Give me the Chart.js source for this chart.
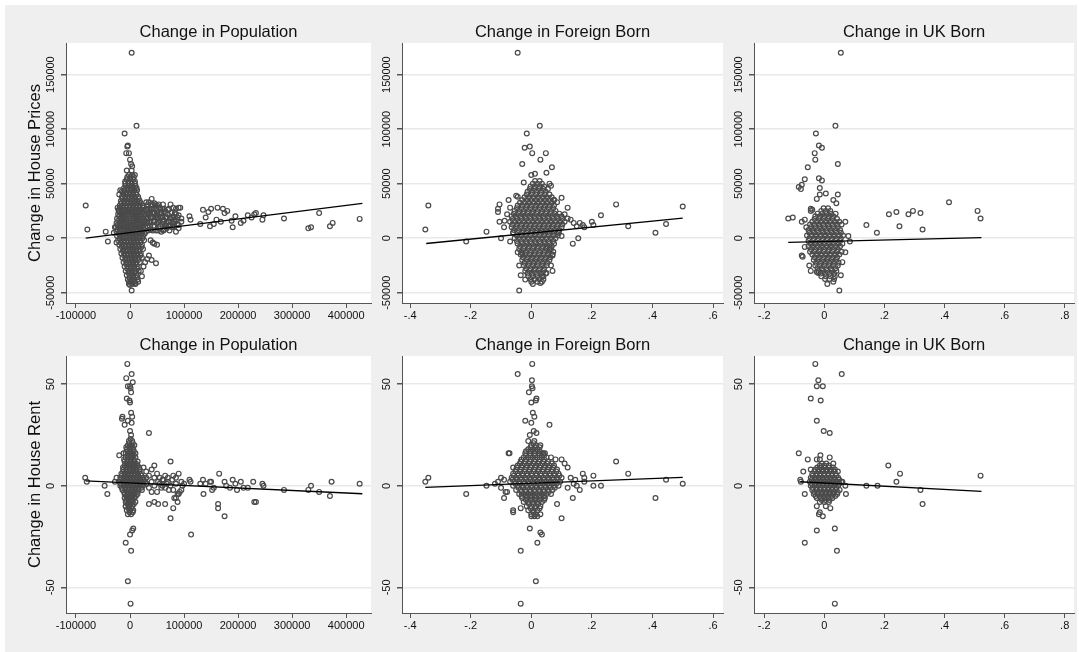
<!DOCTYPE html>
<html>
<head>
<meta charset="utf-8">
<script src="https://cdn.jsdelivr.net/npm/chart.js@4.4.1/dist/chart.umd.min.js"></script>
<style>
  body { margin: 0; background: #fff; }
  #page { position: relative; width: 1079px; height: 652px; overflow: hidden; background: #fff; }
  #bg { position: absolute; left: 5px; top: 5px; width: 1072px; height: 647px; background: #efefef; }
  canvas { position: absolute; }
</style>
</head>
<body>
<div id="page"><div id="bg"></div></div>
<script>
// tick values and labels
const popTicks = [-100000, 0, 100000, 200000, 300000, 400000];
const popTickLabels = ["-100000", "0", "100000", "200000", "300000", "400000"];
const foreignTicks = [-0.4, -0.2, 0, 0.2, 0.4, 0.6];
const foreignTickLabels = ["-.4", "-.2", "0", ".2", ".4", ".6"];
const ukTicks = [-0.2, 0, 0.2, 0.4, 0.6, 0.8];
const ukTickLabels = ["-.2", "0", ".2", ".4", ".6", ".8"];
const priceTicks = [-50000, 0, 50000, 100000, 150000];
const priceTickLabels = ["-50000", "0", "50000", "100000", "150000"];
const rentTicks = [-50, 0, 50];
const rentTickLabels = ["-50", "0", "50"];

// fitted lines (end points)
const fitPopPrice = [[-82000, 0], [430000, 32000]];
const fitForeignPrice = [[-0.347, -4900], [0.5, 18300]];
const fitUkPrice = [[-0.12, -3800], [0.523, 500]];
const fitPopRent = [[-82000, 2.4], [430000, -3.9]];
const fitForeignRent = [[-0.35, -0.8], [0.5, 4.2]];
const fitUkRent = [[-0.08, 2], [0.523, -2.7]];

// dense clusters are written as rows: [y, x1, x2, ...]
// scattered points are written as [x, y]

// change in population vs change in house prices
const popPriceRows = [
  [58000, -2000, 4000], [56000, -5000, 1000, 7000], [54000, -6000, 0, 6000], [52000, -9000, -3000, 3000, 9000],
  [50000, -9000, -3000, 3000, 9000], [48000, -8000, -2000, 4000, 10000], [46000, -11000, -5000, 1000, 7000, 12000],
  [44000, -10000, -4000, 2000, 8000, 13000], [42000, -13000, -7000, -1000, 5000, 11000], [40000, -12000, -6000, 0, 6000, 12000],
  [38000, -15000, -9000, -3000, 3000, 9000, 15000], [36000, -14000, -8000, -2000, 4000, 10000, 16000],
  [34000, -17000, -11000, -5000, 1000, 7000, 13000, 18000], [32000, -16000, -10000, -4000, 2000, 8000, 14000, 20000],
  [30000, -19000, -13000, -7000, -1000, 5000, 11000, 17000, 23000], [28000, -18000, -12000, -6000, 0, 6000, 12000, 18000, 24000],
  [26000, -21000, -15000, -9000, -3000, 3000, 9000, 15000, 21000, 27000], [24000, -19000, -13000, -7000, -1000, 5000, 11000, 17000, 23000],
  [22000, -22000, -16000, -10000, -4000, 2000, 8000, 14000, 20000, 26000], [20000, -20000, -14000, -8000, -2000, 4000, 10000, 16000, 22000, 28000],
  [18000, -24000, -18000, -12000, -6000, 0, 6000, 12000, 18000, 24000, 30000], [16000, -22000, -16000, -10000, -4000, 2000, 8000, 14000, 20000, 26000],
  [14000, -25000, -19000, -13000, -7000, -1000, 5000, 11000, 17000, 23000, 29000], [12000, -23000, -17000, -11000, -5000, 1000, 7000, 13000, 19000, 25000],
  [10000, -26000, -20000, -14000, -8000, -2000, 4000, 10000, 16000, 22000, 28000], [8000, -23000, -17000, -11000, -5000, 1000, 7000, 13000, 19000, 25000],
  [6000, -25000, -19000, -13000, -7000, -1000, 5000, 11000, 17000, 23000, 29000], [4000, -21000, -15000, -9000, -3000, 3000, 9000, 15000, 21000, 27000],
  [2000, -24000, -18000, -12000, -6000, 0, 6000, 12000, 18000, 24000], [0, -19000, -13000, -7000, -1000, 5000, 11000, 17000, 23000],
  [-2000, -22000, -16000, -10000, -4000, 2000, 8000, 14000, 20000, 26000], [-4000, -17000, -11000, -5000, 1000, 7000, 13000, 19000],
  [-6000, -20000, -14000, -8000, -2000, 4000, 10000, 16000, 22000], [-8000, -15000, -9000, -3000, 3000, 9000, 15000, 21000],
  [-10000, -18000, -12000, -6000, 0, 6000, 12000, 18000, 24000], [-12000, -13000, -7000, -1000, 5000, 11000, 17000],
  [-14000, -16000, -10000, -4000, 2000, 8000, 14000, 20000], [-16000, -11000, -5000, 1000, 7000, 13000, 19000],
  [-18000, -14000, -8000, -2000, 4000, 10000, 16000, 22000], [-20000, -9000, -3000, 3000, 9000, 15000],
  [-22000, -12000, -6000, 0, 6000, 12000, 18000], [-24000, -7000, -1000, 5000, 11000],
  [-26000, -10000, -4000, 2000, 8000, 14000], [-28000, -5000, 1000, 7000, 13000],
  [-30000, -8000, -2000, 4000, 10000, 16000], [-32000, -3000, 3000, 9000],
  [-34000, -6000, 0, 6000, 12000], [-36000, -1000, 5000, 11000],
  [-38000, -4000, 2000, 8000, 14000], [-40000, 1000, 7000], [-42000, -2000, 4000, 10000],
  [31000, 33000, 39000, 47000, 53000, 61000], [27000, 33000, 38000, 44000, 49000, 56000, 63000, 72000],
  [23000, 32000, 38000, 43000, 50000, 58000, 66000, 83000], [19000, 33000, 38000, 43000, 49000, 57000, 68000, 78000, 88000],
  [15000, 32000, 38000, 44000, 52000, 61000, 72000, 82000], [11000, 32000, 37000, 46000, 56000, 66000, 82000],
  [7000, 34000, 42000, 52000, 62000]
];
const popPriceOther = [
  [3000,170000],[12000,103000],[-10000,96000],[-5000,84000],[-4000,85000],[-7000,78000],[-2000,78000],[0,72000],[2000,68000],[4000,66000],[3000,62000],[9000,58000],[-6000,62000],
  [-82000,30000],[-79000,8000],[-45000,6000],[-41000,-3000],[-28000,10000],[-30000,5000],[-23000,28000],[-21000,25000],[-25000,-4000],[-20000,40000],[-15000,43000],[-18000,44000],
  [30000,33000],[35000,33000],[40000,36000],[45000,32000],[50000,30000],[55000,28000],[60000,27000],[65000,25000],[70000,26000],[75000,31000],[80000,28000],[85000,27000],[90000,28000],[93000,28000],
  [30000,26000],[35000,24000],[40000,27000],[45000,23000],[50000,25000],[55000,22000],[60000,20000],[65000,19000],[70000,22000],[75000,18000],[80000,20000],[85000,22000],[90000,21000],[95000,18000],
  [30000,18000],[35000,15000],[40000,19000],[45000,16000],[50000,14000],[55000,16000],[60000,13000],[65000,12000],[70000,15000],[75000,12000],[80000,14000],[85000,16000],[90000,12000],[95000,15000],
  [33000,10000],[38000,8000],[43000,11000],[48000,7000],[53000,9000],[58000,6000],[63000,8000],[68000,9000],[73000,7000],[78000,10000],[85000,6000],[90000,9000],
  [35000,22000],[42000,30000],[47000,20000],[52000,18000],[57000,24000],[62000,17000],[67000,14000],[72000,11000],[77000,23000],[82000,17000],[87000,13000],
  [38000,-2000],[45000,-5000],[50000,-6000],[42000,-4000],[35000,-16000],[32000,-19000],[40000,-20000],[48000,-23000],[28000,-22000],[25000,-26000],[20000,-30000],[22000,-35000],[15000,-40000],[10000,-41000],[3000,-48000],[0,-43000],[-2000,-40000],
  [110000,20000],[112000,17000],[130000,13000],[135000,26000],[140000,19000],[145000,24000],[148000,11000],[150000,27000],[155000,13000],[160000,17000],[162000,28000],[168000,15000],[172000,27000],[175000,23000],[180000,25000],[188000,16000],[190000,10000],[195000,20000],[205000,14000],[210000,16000],[218000,21000],[225000,19000],[230000,22000],[233000,23000],[245000,17000],[247000,21000],[285000,18000],[330000,9000],[335000,10000],[350000,23000],[370000,11000],[375000,14000],[425000,17700]
];

// change in foreign born vs change in house prices
const foreignPriceRows = [
  [52500, 0.0125, 0.0275], [50000, 0.005, 0.02, 0.035], [47500, -0.0025, 0.0125, 0.0275, 0.0425],
  [45000, -0.005, 0.01, 0.025, 0.04, 0.055], [42500, -0.0125, 0.0025, 0.0175, 0.0325, 0.0475],
  [40000, -0.015, 0, 0.015, 0.03, 0.045, 0.06], [37500, -0.0225, -0.0075, 0.0075, 0.0225, 0.0375, 0.0525, 0.0675],
  [35000, -0.03, -0.015, 0, 0.015, 0.03, 0.045, 0.06, 0.075], [32500, -0.0375, -0.0225, -0.0075, 0.0075, 0.0225, 0.0375, 0.0525, 0.0675],
  [30000, -0.045, -0.03, -0.015, 0, 0.015, 0.03, 0.045, 0.06, 0.075], [27500, -0.0475, -0.0325, -0.0175, -0.0025, 0.0125, 0.0275, 0.0425, 0.0575, 0.0725],
  [25000, -0.055, -0.04, -0.025, -0.01, 0.005, 0.02, 0.035, 0.05, 0.065, 0.08],
  [22500, -0.0575, -0.0425, -0.0275, -0.0125, 0.0025, 0.0175, 0.0325, 0.0475, 0.0625, 0.0775, 0.0925],
  [20000, -0.065, -0.05, -0.035, -0.02, -0.005, 0.01, 0.025, 0.04, 0.055, 0.07, 0.085, 0.1],
  [17500, -0.0625, -0.0475, -0.0325, -0.0175, -0.0025, 0.0125, 0.0275, 0.0425, 0.0575, 0.0725, 0.0875, 0.1025],
  [15000, -0.07, -0.055, -0.04, -0.025, -0.01, 0.005, 0.02, 0.035, 0.05, 0.065, 0.08, 0.095, 0.11],
  [12500, -0.0625, -0.0475, -0.0325, -0.0175, -0.0025, 0.0125, 0.0275, 0.0425, 0.0575, 0.0725, 0.0875, 0.1025],
  [10000, -0.065, -0.05, -0.035, -0.02, -0.005, 0.01, 0.025, 0.04, 0.055, 0.07, 0.085, 0.1],
  [7500, -0.0575, -0.0425, -0.0275, -0.0125, 0.0025, 0.0175, 0.0325, 0.0475, 0.0625, 0.0775, 0.0925],
  [5000, -0.06, -0.045, -0.03, -0.015, 0, 0.015, 0.03, 0.045, 0.06, 0.075, 0.09],
  [2500, -0.0475, -0.0325, -0.0175, -0.0025, 0.0125, 0.0275, 0.0425, 0.0575, 0.0725, 0.0875],
  [0, -0.055, -0.04, -0.025, -0.01, 0.005, 0.02, 0.035, 0.05, 0.065, 0.08],
  [-2500, -0.0475, -0.0325, -0.0175, -0.0025, 0.0125, 0.0275, 0.0425, 0.0575, 0.0725],
  [-5000, -0.045, -0.03, -0.015, 0, 0.015, 0.03, 0.045, 0.06, 0.075],
  [-7500, -0.0375, -0.0225, -0.0075, 0.0075, 0.0225, 0.0375, 0.0525, 0.0675],
  [-10000, -0.04, -0.025, -0.01, 0.005, 0.02, 0.035, 0.05, 0.065],
  [-12500, -0.0325, -0.0175, -0.0025, 0.0125, 0.0275, 0.0425, 0.0575, 0.0725],
  [-15000, -0.035, -0.02, -0.005, 0.01, 0.025, 0.04, 0.055, 0.07],
  [-17500, -0.0275, -0.0125, 0.0025, 0.0175, 0.0325, 0.0475, 0.0625],
  [-20000, -0.03, -0.015, 0, 0.015, 0.03, 0.045, 0.06], [-22500, -0.0225, -0.0075, 0.0075, 0.0225, 0.0375, 0.0525],
  [-25000, -0.025, -0.01, 0.005, 0.02, 0.035, 0.05], [-27500, -0.0175, -0.0025, 0.0125, 0.0275, 0.0425],
  [-30000, -0.02, -0.005, 0.01, 0.025, 0.04], [-32500, -0.0125, 0.0025, 0.0175, 0.0325, 0.0475],
  [-35000, -0.01, 0.005, 0.02, 0.035], [-37500, -0.0025, 0.0125, 0.0275], [-40000, 0, 0.02, 0.035]
];
const foreignPriceOther = [
  [-0.045,170000],[0.028,103000],[-0.015,96000],[-0.022,83000],[-0.005,84000],[0.003,78000],[0.048,78000],[0.03,72000],[-0.03,68000],[0.068,65000],[0.05,60000],[-0.025,51000],[0,58000],[0.012,59000],[0.06,50000],[0.065,48000],
  [-0.35,8000],[-0.34,30000],[-0.215,-3000],[-0.148,6000],[-0.1,0],[-0.11,27000],[-0.105,31000],[-0.11,24000],[-0.105,15000],[-0.088,16000],[-0.09,10000],[-0.075,35000],[-0.07,28000],[-0.08,22000],[-0.07,-3000],[-0.06,5000],[-0.05,39000],[-0.045,38000],
  [0.1,37000],[0.12,28000],[0.11,22000],[0.12,18000],[0.14,14000],[0.15,11000],[0.16,14000],[0.17,12000],[0.175,10000],[0.2,15000],[0.205,12000],[0.23,21000],[0.28,31000],[0.32,11000],[0.41,5000],[0.445,13000],[0.5,29000],[0.137,-5000],[0.155,0],[0.1,2000],[0.09,5000],[0.13,17000],[0.085,33000],[0.075,35000],
  [-0.045,-13000],[-0.04,-25000],[-0.035,-34000],[-0.04,-48000],[-0.02,-38000],[0.005,-42000],[0.03,-41000],[0.04,-35000],[0.05,-32000],[0.07,-30000],[0.07,-16000],[0.065,-25000],[0.06,-10000],[-0.03,-14000],[0.04,-38000]
];

// change in UK born vs change in house prices
const ukPriceRows = [
  [27500, -0.0025, 0.0125], [25000, -0.01, 0.005, 0.02], [22500, -0.0225, -0.0075, 0.0075, 0.0225, 0.0375],
  [20000, -0.03, -0.015, 0, 0.015, 0.03], [17500, -0.0325, -0.0175, -0.0025, 0.0125, 0.0275, 0.0425],
  [15000, -0.04, -0.025, -0.01, 0.005, 0.02, 0.035, 0.05], [12500, -0.0475, -0.0325, -0.0175, -0.0025, 0.0125, 0.0275, 0.0425, 0.0575],
  [10000, -0.045, -0.03, -0.015, 0, 0.015, 0.03, 0.045], [7500, -0.0525, -0.0375, -0.0225, -0.0075, 0.0075, 0.0225, 0.0375, 0.0525],
  [5000, -0.05, -0.035, -0.02, -0.005, 0.01, 0.025, 0.04, 0.055], [2500, -0.0575, -0.0425, -0.0275, -0.0125, 0.0025, 0.0175, 0.0325, 0.0475, 0.0625],
  [0, -0.05, -0.035, -0.02, -0.005, 0.01, 0.025, 0.04, 0.055], [-2500, -0.0525, -0.0375, -0.0225, -0.0075, 0.0075, 0.0225, 0.0375, 0.0525],
  [-5000, -0.045, -0.03, -0.015, 0, 0.015, 0.03, 0.045, 0.06], [-7500, -0.0525, -0.0375, -0.0225, -0.0075, 0.0075, 0.0225, 0.0375, 0.0525],
  [-10000, -0.045, -0.03, -0.015, 0, 0.015, 0.03, 0.045], [-12500, -0.0475, -0.0325, -0.0175, -0.0025, 0.0125, 0.0275, 0.0425, 0.0575],
  [-15000, -0.04, -0.025, -0.01, 0.005, 0.02, 0.035, 0.05], [-17500, -0.0325, -0.0175, -0.0025, 0.0125, 0.0275, 0.0425],
  [-20000, -0.035, -0.02, -0.005, 0.01, 0.025, 0.04], [-22500, -0.0275, -0.0125, 0.0025, 0.0175, 0.0325, 0.0475],
  [-25000, -0.03, -0.015, 0, 0.015, 0.03, 0.045], [-27500, -0.0225, -0.0075, 0.0075, 0.0225, 0.0375],
  [-30000, -0.02, -0.005, 0.01, 0.025, 0.04], [-32500, -0.0125, 0.0025, 0.0175, 0.0325],
  [-35000, -0.01, 0.005, 0.02, 0.035], [-37500, 0.0025, 0.0175, 0.0325]
];
const ukPriceOther = [
  [0.055,170000],[0.037,103000],[-0.028,96000],[-0.018,85000],[-0.008,83000],[-0.032,78000],[-0.03,72000],[0.045,68000],[-0.055,65000],[-0.065,54000],[-0.085,47000],[-0.078,45000],[-0.075,49000],[-0.018,55000],[-0.008,53000],[-0.015,46000],[-0.015,40000],[0.005,41000],[0.045,40000],[0.04,32000],[-0.025,36000],[0.03,35000],[-0.045,27000],[-0.045,25000],[-0.04,26000],
  [-0.12,18000],[-0.105,19000],[-0.075,15000],[-0.065,17000],[-0.06,10000],[-0.065,-8000],[-0.075,-16000],[-0.072,-17000],[-0.05,-25000],[-0.045,-30000],[-0.025,-31000],[-0.02,-32000],[0.03,-40000],[0.01,-42000],[0.05,-48000],[0.055,-34000],[0.06,-22000],[0.07,-13000],[0.08,2000],[0.085,-3000],[0.07,15000],
  [0.14,12000],[0.175,5000],[0.215,22000],[0.24,24000],[0.25,11000],[0.28,22000],[0.295,25000],[0.32,23000],[0.327,8000],[0.415,33000],[0.51,25000],[0.52,18000]
];

// change in population vs change in house rent
const popRentRows = [
  [23, 1000], [22, -2000, 4000], [21, -1000, 5000], [20, -4000, 2000, 8000], [19, -7000, -1000, 5000],
  [18, -6000, 0, 6000], [17, -5000, 1000, 7000], [16, -8000, -2000, 4000, 10000], [15, -5000, 1000, 7000],
  [14, -8000, -2000, 4000, 10000], [13, -11000, -5000, 1000, 7000], [12, -10000, -4000, 2000, 8000, 14000],
  [11, -7000, -1000, 5000, 11000], [10, -10000, -4000, 2000, 8000, 14000], [9, -13000, -7000, -1000, 5000, 11000, 17000],
  [8, -12000, -6000, 0, 6000, 12000, 18000], [7, -13000, -7000, -1000, 5000, 11000, 17000],
  [6, -16000, -10000, -4000, 2000, 8000, 14000, 20000], [5, -15000, -9000, -3000, 3000, 9000, 15000, 21000],
  [4, -18000, -12000, -6000, 0, 6000, 12000, 18000, 24000], [3, -17000, -11000, -5000, 1000, 7000, 13000, 19000, 25000],
  [2, -20000, -14000, -8000, -2000, 4000, 10000, 16000, 22000, 28000], [1, -17000, -11000, -5000, 1000, 7000, 13000, 19000, 25000, 31000],
  [0, -18000, -12000, -6000, 0, 6000, 12000, 18000, 24000], [-1, -15000, -9000, -3000, 3000, 9000, 15000, 21000],
  [-2, -14000, -8000, -2000, 4000, 10000, 16000, 22000], [-3, -11000, -5000, 1000, 7000, 13000],
  [-4, -10000, -4000, 2000, 8000, 14000], [-5, -7000, -1000, 5000, 11000], [-6, -10000, -4000, 2000, 8000],
  [-7, -7000, -1000, 5000], [-8, -8000, -2000, 4000, 10000], [-9, -5000, 1000, 7000], [-10, -8000, -2000, 4000],
  [-11, -3000, 3000], [-12, -6000, 0, 6000], [-13, -1000, 5000], [-14, -4000, 2000]
];
const popRentOther = [
  [25000,9],[30000,7],[35000,5],[40000,8],[45000,10],[50000,6],[55000,4],[60000,3],[65000,5],[70000,4],[75000,12],[80000,5],[85000,4],[90000,6],[95000,2],
  [25000,3],[30000,1],[35000,-1],[40000,2],[45000,0],[50000,-3],[55000,1],[60000,0],[65000,-1],[70000,2],[75000,0],[80000,-2],[85000,1],[90000,-4],[95000,-2],[100000,1],
  [30000,4],[40000,-3],[45000,4],[52000,2],[58000,-1],[62000,3],[68000,1],[72000,-2],[78000,3],[82000,-6],[88000,-8],[92000,-3],[97000,0],
  [35000,-9],[45000,-8],[52000,-9],[65000,-9],[75000,-16],[80000,-11],[85000,-6],[88000,-4],
  [-83000,4],[-80000,2],[-47000,0],[-42000,-4],[-28000,2],[-25000,4],[-20000,15],[-15000,33],[-14000,34],[-10000,30],[-12000,16],[-8000,-10],[-8000,-28],[-4000,-47],[1000,-58],[2000,-32],[4000,-22],[6000,-21],[0,-24],
  [-5000,60],[3000,55],[-7000,53],[5000,51],[-4000,49],[0,49],[1000,48],[2000,46],[-6000,43],[0,41],[-1000,42],[2000,36],[4000,34],[3000,31],[-4000,32],[0,27],[2000,25],[35000,26],
  [110000,3],[112000,2],[113000,-24],[130000,1],[135000,3],[136000,-4],[140000,1],[148000,2],[150000,2],[152000,-2],[155000,-1],[163000,-9],[163000,-11],[165000,6],[175000,-15],[175000,2],[178000,0],[185000,-1],[190000,3],[195000,1],[198000,-2],[205000,2],[210000,-1],[218000,-1],[228000,2],[230000,-8],[233000,-8],[245000,1],[247000,0],[285000,-2],[330000,-2],[335000,0],[350000,-3],[370000,-5],[373000,2],[425000,1]
];

// change in foreign born vs change in house rent
const foreignRentRows = [
  [21, 0.0075], [20, 0, 0.015], [19, -0.0025, 0.0125, 0.0275], [18, -0.01, 0.005, 0.02],
  [17, -0.0175, -0.0025, 0.0125, 0.0275], [16, -0.02, -0.005, 0.01, 0.025, 0.04],
  [15, -0.0175, -0.0025, 0.0125, 0.0275, 0.0425], [14, -0.025, -0.01, 0.005, 0.02, 0.035, 0.05],
  [13, -0.0325, -0.0175, -0.0025, 0.0125, 0.0275, 0.0425], [12, -0.035, -0.02, -0.005, 0.01, 0.025, 0.04, 0.055],
  [11, -0.0375, -0.0225, -0.0075, 0.0075, 0.0225, 0.0375, 0.0525, 0.0675],
  [10, -0.045, -0.03, -0.015, 0, 0.015, 0.03, 0.045, 0.06, 0.075],
  [9, -0.0475, -0.0325, -0.0175, -0.0025, 0.0125, 0.0275, 0.0425, 0.0575, 0.0725],
  [8, -0.05, -0.035, -0.02, -0.005, 0.01, 0.025, 0.04, 0.055, 0.07, 0.085],
  [7, -0.0525, -0.0375, -0.0225, -0.0075, 0.0075, 0.0225, 0.0375, 0.0525, 0.0675, 0.0825],
  [6, -0.06, -0.045, -0.03, -0.015, 0, 0.015, 0.03, 0.045, 0.06, 0.075, 0.09],
  [5, -0.0575, -0.0425, -0.0275, -0.0125, 0.0025, 0.0175, 0.0325, 0.0475, 0.0625, 0.0775, 0.0925],
  [4, -0.065, -0.05, -0.035, -0.02, -0.005, 0.01, 0.025, 0.04, 0.055, 0.07, 0.085, 0.1],
  [3, -0.0625, -0.0475, -0.0325, -0.0175, -0.0025, 0.0125, 0.0275, 0.0425, 0.0575, 0.0725, 0.0875],
  [2, -0.07, -0.055, -0.04, -0.025, -0.01, 0.005, 0.02, 0.035, 0.05, 0.065, 0.08, 0.095],
  [1, -0.0525, -0.0375, -0.0225, -0.0075, 0.0075, 0.0225, 0.0375, 0.0525, 0.0675, 0.0825],
  [0, -0.06, -0.045, -0.03, -0.015, 0, 0.015, 0.03, 0.045, 0.06, 0.075, 0.09],
  [-1, -0.0425, -0.0275, -0.0125, 0.0025, 0.0175, 0.0325, 0.0475, 0.0625, 0.0775],
  [-2, -0.05, -0.035, -0.02, -0.005, 0.01, 0.025, 0.04, 0.055, 0.07],
  [-3, -0.0325, -0.0175, -0.0025, 0.0125, 0.0275, 0.0425, 0.0575],
  [-4, -0.04, -0.025, -0.01, 0.005, 0.02, 0.035, 0.05, 0.065],
  [-5, -0.0325, -0.0175, -0.0025, 0.0125, 0.0275, 0.0425], [-6, -0.03, -0.015, 0, 0.015, 0.03, 0.045],
  [-7, -0.0175, -0.0025, 0.0125, 0.0275, 0.0425], [-8, -0.025, -0.01, 0.005, 0.02, 0.035],
  [-9, -0.0075, 0.0075, 0.0225], [-10, -0.015, 0, 0.015, 0.03], [-11, -0.0025, 0.0125, 0.0275],
  [-12, -0.01, 0.005, 0.02], [-13, 0.0075], [-14, 0, 0.015]
];
const foreignRentOther = [
  [0.003,60],[-0.045,55],[0.002,52],[0.002,49],[0.004,48],[-0.008,46],[0,41],[0.015,42],[0.017,43],[0.005,36],[0.01,34],[-0.02,32],[0,31],[0.06,30],[0.008,27],[0.017,26],[-0.005,25],[0.01,22],[-0.01,22],[0.03,20],[0.035,16],[0.045,16],[-0.075,16],[-0.072,16],[-0.06,9],[0.065,14],[0.08,13],[0.1,13],[0.11,11],[0.12,9],[-0.08,-3],[-0.09,-6],
  [-0.35,2],[-0.34,4],[-0.215,-4],[-0.148,0],[-0.11,2],[-0.1,4],[-0.09,3],[-0.12,1],[-0.1,-1],[-0.085,-3],
  [0.13,4],[0.145,3],[0.15,0],[0.16,-2],[0.17,6],[0.175,4],[0.175,2],[0.205,5],[0.205,0],[0.23,0],[0.28,12],[0.32,6],[0.41,-6],[0.445,3],[0.5,1],[0.137,-6],[0.085,-9],[0.1,-16],[0.14,1],[0.12,-1],
  [-0.06,-12],[-0.06,-13],[-0.035,-11],[-0.005,-21],[0.02,-28],[0.03,-23],[0.035,-24],[0.03,-14],[-0.035,-32],[0.015,-47],[-0.035,-58],[0.01,-15],[0,-15],[0.02,-15]
];

// change in UK born vs change in house rent
const ukRentRows = [
  [11, -0.0085, 0.0065], [10, -0.015, 0, 0.015], [9, -0.0235, -0.0105, 0.0025, 0.0155, 0.0285],
  [8, -0.03, -0.017, -0.004, 0.009, 0.022, 0.035], [7, -0.0335, -0.0205, -0.0075, 0.0055, 0.0185, 0.0315],
  [6, -0.04, -0.027, -0.014, -0.001, 0.012, 0.025, 0.038], [5, -0.0385, -0.0255, -0.0125, 0.0005, 0.0135, 0.0265, 0.0395],
  [4, -0.045, -0.032, -0.019, -0.006, 0.007, 0.02, 0.033, 0.046], [3, -0.0415, -0.0285, -0.0155, -0.0025, 0.0105, 0.0235, 0.0365, 0.0495],
  [2, -0.048, -0.035, -0.022, -0.009, 0.004, 0.017, 0.03, 0.043, 0.056], [1, -0.0415, -0.0285, -0.0155, -0.0025, 0.0105, 0.0235, 0.0365, 0.0495],
  [0, -0.045, -0.032, -0.019, -0.006, 0.007, 0.02, 0.033, 0.046], [-1, -0.0385, -0.0255, -0.0125, 0.0005, 0.0135, 0.0265, 0.0395],
  [-2, -0.04, -0.027, -0.014, -0.001, 0.012, 0.025, 0.038, 0.051], [-3, -0.0335, -0.0205, -0.0075, 0.0055, 0.0185, 0.0315, 0.0445],
  [-4, -0.035, -0.022, -0.009, 0.004, 0.017, 0.03, 0.043], [-5, -0.0285, -0.0155, -0.0025, 0.0105, 0.0235, 0.0365],
  [-6, -0.025, -0.012, 0.001, 0.014, 0.027], [-7, -0.0085, 0.0045, 0.0175], [-8, -0.015, 0, 0.015]
];
const ukRentOther = [
  [-0.03,60],[0.058,55],[-0.02,52],[-0.025,49],[-0.005,49],[-0.045,43],[-0.012,42],[-0.025,32],[-0.002,27],[0.018,26],[-0.085,16],[-0.013,15],[0.018,14],[-0.025,13],[-0.015,13],[0.03,11],[-0.055,13],[-0.045,8],[-0.07,7],[-0.08,3],[-0.078,2],[-0.065,-4],[0.045,7],[0.06,2],[0.07,0],[0.072,-4],
  [0.14,0],[0.177,0],[0.213,10],[0.24,2],[0.252,6],[0.32,-2],[0.327,-9],[0.52,5],
  [-0.025,-10],[-0.015,-13],[-0.018,-14],[-0.005,-15],[0.02,-11],[0.005,-10],[-0.025,-22],[0.035,-21],[-0.065,-28],[0.042,-32],[0.035,-58]
];

const colLeft = [66, 402, 754];
const colRight = [371, 723, 1074];
const rowTop = [43, 356];
const rowBottom = [303, 613];
const FONT = '"Liberation Sans", Arial, Helvetica, sans-serif';

const panelDecor = {
    id: "panelDecor",
    beforeDraw(chart) {
        const a = chart.chartArea;
        const ctx = chart.ctx;
        ctx.save();
        ctx.fillStyle = "#ffffff";
        ctx.fillRect(a.left, a.top, a.right - a.left, a.bottom - a.top);
        ctx.restore();
    },
    afterDraw(chart, args, opts) {
        const a = chart.chartArea;
        const ctx = chart.ctx;
        const ys = chart.scales.y;
        ctx.save();
        ctx.fillStyle = "#111";
        ctx.textAlign = "center";
        ctx.textBaseline = "middle";
        ctx.font = "16.5px " + FONT;
        ctx.fillText(opts.title, (a.left + a.right) / 2, a.top - 11);

        // Stata style vertical tick labels
        ctx.font = "11px " + FONT;
        opts.yTicks.forEach(function (v, i) {
            ctx.save();
            ctx.translate(a.left - 15, ys.getPixelForValue(v));
            ctx.rotate(-Math.PI / 2);
            ctx.fillText(opts.yLabels[i], 0, 0);
            ctx.restore();
        });

        if (opts.yTitle) {
            ctx.font = "16.5px " + FONT;
            ctx.translate(a.left - 31, (a.top + a.bottom) / 2);
            ctx.rotate(-Math.PI / 2);
            ctx.fillText(opts.yTitle, 0, 0);
        }
        ctx.restore();
    }
};

const panels = [
    { row: 0, col: 0, title: "Change in Population", yTitle: "Change in House Prices", rows: popPriceRows, other: popPriceOther, fit: fitPopPrice,
      xMin: -118500, xMax: 446000, xTicks: popTicks, xLabels: popTickLabels,
      yMin: -59450, yMax: 179000, yTicks: priceTicks, yLabels: priceTickLabels },
    { row: 0, col: 1, title: "Change in Foreign Born", yTitle: "", rows: foreignPriceRows, other: foreignPriceOther, fit: fitForeignPrice,
      xMin: -0.427, xMax: 0.633, xTicks: foreignTicks, xLabels: foreignTickLabels,
      yMin: -59450, yMax: 179000, yTicks: priceTicks, yLabels: priceTickLabels },
    { row: 0, col: 2, title: "Change in UK Born", yTitle: "", rows: ukPriceRows, other: ukPriceOther, fit: fitUkPrice,
      xMin: -0.234, xMax: 0.831, xTicks: ukTicks, xLabels: ukTickLabels,
      yMin: -59450, yMax: 179000, yTicks: priceTicks, yLabels: priceTickLabels },
    { row: 1, col: 0, title: "Change in Population", yTitle: "Change in House Rent", rows: popRentRows, other: popRentOther, fit: fitPopRent,
      xMin: -118500, xMax: 446000, xTicks: popTicks, xLabels: popTickLabels,
      yMin: -62.6, yMax: 63.9, yTicks: rentTicks, yLabels: rentTickLabels },
    { row: 1, col: 1, title: "Change in Foreign Born", yTitle: "", rows: foreignRentRows, other: foreignRentOther, fit: fitForeignRent,
      xMin: -0.427, xMax: 0.633, xTicks: foreignTicks, xLabels: foreignTickLabels,
      yMin: -62.6, yMax: 63.9, yTicks: rentTicks, yLabels: rentTickLabels },
    { row: 1, col: 2, title: "Change in UK Born", yTitle: "", rows: ukRentRows, other: ukRentOther, fit: fitUkRent,
      xMin: -0.234, xMax: 0.831, xTicks: ukTicks, xLabels: ukTickLabels,
      yMin: -62.6, yMax: 63.9, yTicks: rentTicks, yLabels: rentTickLabels }
];

function toXY(list) {
    return list.map(p => ({ x: p[0], y: p[1] }));
}

function rowsToXY(rows) {
    const out = [];
    rows.forEach(r => r.slice(1).forEach(x => out.push({ x: x, y: r[0] })));
    return out;
}

function makePanel(p) {
    const canvas = document.createElement("canvas");
    const left = colLeft[p.col] - 62;
    const top = rowTop[p.row] - 40;
    const w = colRight[p.col] + 4 - left;
    const h = rowBottom[p.row] + 25 - top;
    canvas.width = w;
    canvas.height = h;
    canvas.style.left = left + "px";
    canvas.style.top = top + "px";
    canvas.style.width = w + "px";
    canvas.style.height = h + "px";
    document.getElementById("page").appendChild(canvas);

    new Chart(canvas.getContext("2d"), {
        type: "scatter",
        data: {
            datasets: [
                {
                    type: "line",
                    data: toXY(p.fit),
                    borderColor: "#000",
                    borderWidth: 1.3,
                    pointRadius: 0,
                    fill: false,
                    order: 0
                },
                {
                    data: rowsToXY(p.rows).concat(toXY(p.other)),
                    pointRadius: 2.4,
                    pointHoverRadius: 2.4,
                    borderWidth: 1.2,
                    borderColor: "#4a4a4a",
                    backgroundColor: "rgba(0,0,0,0)",
                    order: 1
                }
            ]
        },
        options: {
            responsive: false,
            animation: false,
            events: [],
            layout: { padding: { left: 56, right: 4, top: 40, bottom: 3 } },
            plugins: {
                legend: { display: false },
                tooltip: { enabled: false },
                panelDecor: { title: p.title, yTitle: p.yTitle, yTicks: p.yTicks, yLabels: p.yLabels }
            },
            scales: {
                x: {
                    type: "linear",
                    position: "bottom",
                    min: p.xMin,
                    max: p.xMax,
                    afterBuildTicks: s => { s.ticks = p.xTicks.map(v => ({ value: v })); },
                    afterFit: s => { s.height = 22; },
                    grid: { drawOnChartArea: false, drawTicks: true, tickLength: 5, tickColor: "#555", lineWidth: 1 },
                    border: { color: "#555", width: 1 },
                    ticks: {
                        autoSkip: false, maxRotation: 0, minRotation: 0, padding: 1,
                        color: "#111", font: { family: FONT, size: 11 },
                        callback: (v, i) => p.xLabels[i]
                    }
                },
                y: {
                    type: "linear",
                    position: "left",
                    min: p.yMin,
                    max: p.yMax,
                    afterBuildTicks: s => { s.ticks = p.yTicks.map(v => ({ value: v })); },
                    afterFit: s => { s.width = 6; },
                    grid: { color: "#e9e9e9", lineWidth: 1.5, drawTicks: true, tickLength: 5, tickColor: "#555" },
                    border: { color: "#555", width: 1 },
                    ticks: { display: false }
                }
            }
        },
        plugins: [panelDecor]
    });
}

panels.forEach(makePanel);
</script>
</body>
</html>
